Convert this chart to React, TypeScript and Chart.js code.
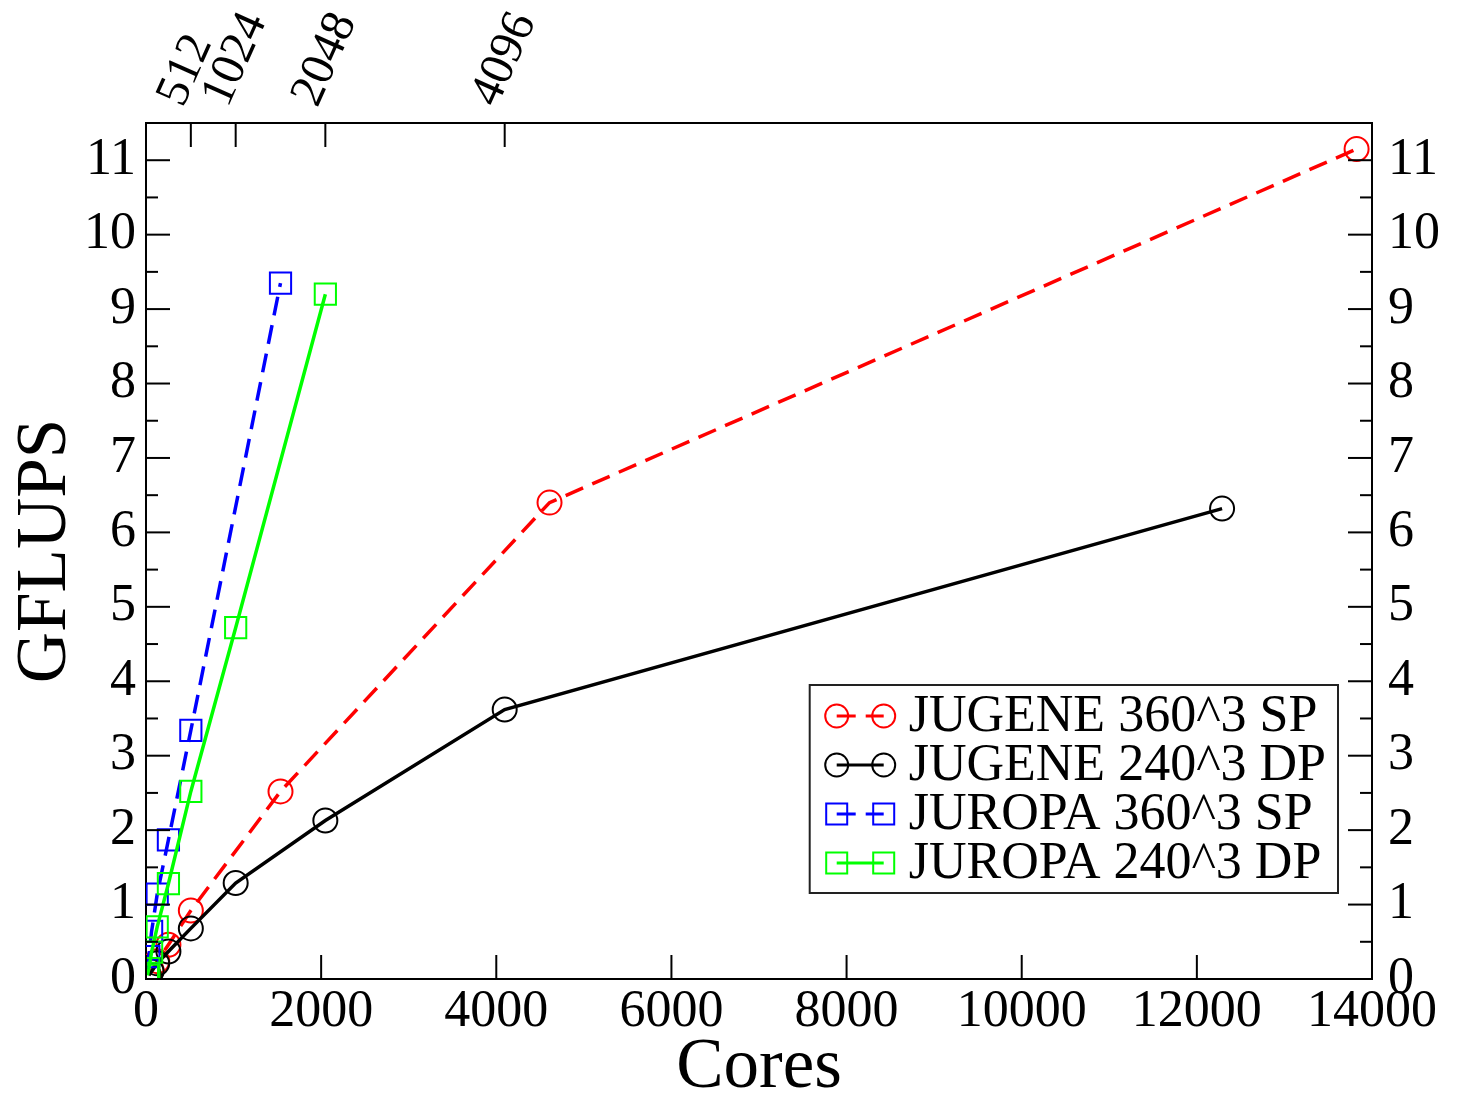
import React, { useEffect, useRef } from "react";
import { Chart, registerables } from "chart.js";

Chart.register(...registerables);

// ---- data ----
const seriesLabels = ["JUGENE 360^3 SP", "JUGENE 240^3 DP", "JUROPA 360^3 SP", "JUROPA 240^3 DP"];

const jugeneSpCores = [32, 64, 128, 256, 512, 1536, 4608, 13824];
const jugeneSpGflups = [0.06, 0.12, 0.24, 0.46, 0.92, 2.52, 6.4, 11.15];

const jugeneDpCores = [32, 64, 128, 256, 512, 1024, 2048, 4096, 12288];
const jugeneDpGflups = [0.05, 0.1, 0.21, 0.37, 0.68, 1.29, 2.13, 3.62, 6.32];

const juropaSpCores = [16, 32, 64, 128, 256, 512, 1536];
const juropaSpGflups = [0.12, 0.3, 0.64, 1.14, 1.87, 3.34, 9.35];

const juropaDpCores = [16, 32, 64, 128, 256, 512, 1024, 2048];
const juropaDpGflups = [0.05, 0.14, 0.36, 0.7, 1.28, 2.52, 4.72, 9.2];

const bottomTicks = [0, 2000, 4000, 6000, 8000, 10000, 12000, 14000];
const topTicks = [512, 1024, 2048, 4096];
const yTicks = [0, 1, 2, 3, 4, 5, 6, 7, 8, 9, 10, 11];

const X_MAX = 14000;
const Y_MAX = 11.5;

const FONT = "'Liberation Serif', 'Times New Roman', serif";

const toPoints = (xs: number[], ys: number[]) => xs.map((x, i) => ({ x, y: ys[i] }));

const frameTicks = {
  id: "frameTicks",
  afterDatasetsDraw(chart: any) {
    const { ctx, chartArea: a, scales } = chart;
    const major = 24;
    const minor = 12;
    ctx.save();
    ctx.strokeStyle = "#000";
    ctx.lineWidth = 2;
    const seg = (x1: number, y1: number, x2: number, y2: number) => {
      ctx.beginPath();
      ctx.moveTo(x1, y1);
      ctx.lineTo(x2, y2);
      ctx.stroke();
    };
    for (const t of scales.x.ticks) {
      const px = scales.x.getPixelForValue(t.value);
      seg(px, a.bottom, px, a.bottom - major);
    }
    for (const t of scales.x2.ticks) {
      const px = scales.x2.getPixelForValue(t.value);
      seg(px, a.top, px, a.top + major);
    }
    for (const t of scales.y.ticks) {
      const py = scales.y.getPixelForValue(t.value);
      seg(a.left, py, a.left + major, py);
      seg(a.right, py, a.right - major, py);
      const half = t.value + 0.5;
      if (half <= Y_MAX) {
        const pm = scales.y.getPixelForValue(half);
        seg(a.left, pm, a.left + minor, pm);
        seg(a.right, pm, a.right - minor, pm);
      }
    }
    ctx.restore();
  },
};

const boxLegend = {
  id: "boxLegend",
  afterDraw(chart: any) {
    const { ctx, chartArea: a } = chart;
    const fontSize = 52;
    const rowH = 49;
    ctx.save();
    ctx.font = `${fontSize}px ${FONT}`;
    const datasets = chart.data.datasets;
    let maxW = 0;
    datasets.forEach((d: any) => {
      maxW = Math.max(maxW, ctx.measureText(d.label).width);
    });
    const padL = 15;
    const symW = 72;
    const gap = 12;
    const padR = 12;
    const boxW = padL + symW + gap + maxW + padR;
    const boxH = 31 + rowH * (datasets.length - 1) + 30;
    const right = a.right - 34;
    const bottom = a.bottom - 86;
    const left = right - boxW;
    const top = bottom - boxH;
    ctx.fillStyle = "#fff";
    ctx.fillRect(left, top, boxW, boxH);
    ctx.strokeStyle = "#222";
    ctx.lineWidth = 2;
    ctx.strokeRect(left, top, boxW, boxH);

    datasets.forEach((d: any, i: number) => {
      const cy = top + 31 + i * rowH;
      const x1 = left + padL + 12;
      const x2 = left + padL + symW - 13;
      ctx.save();
      ctx.strokeStyle = d.borderColor;
      ctx.lineWidth = 3;
      ctx.setLineDash(d.borderDash || []);
      ctx.beginPath();
      ctx.moveTo(x1, cy);
      ctx.lineTo(x2, cy);
      ctx.stroke();
      ctx.setLineDash([]);
      ctx.lineWidth = 2;
      for (const mx of [x1, x2]) {
        ctx.beginPath();
        if (d.pointStyle === "rect") {
          ctx.rect(mx - 10.5, cy - 10.5, 21, 21);
        } else {
          ctx.arc(mx, cy, 11.5, 0, Math.PI * 2);
        }
        ctx.stroke();
      }
      ctx.restore();
      ctx.fillStyle = "#000";
      ctx.textBaseline = "middle";
      ctx.textAlign = "left";
      ctx.fillText(d.label, left + padL + symW + gap, cy + 1);
    });
    ctx.restore();
  },
};

export default function App() {
  const canvasRef = useRef<HTMLCanvasElement | null>(null);

  useEffect(() => {
    const canvas = canvasRef.current;
    if (!canvas) return;
    const tickFont = { family: FONT, size: 52 };
    const dash = [19, 10];
    const chart = new Chart(canvas, {
      type: "scatter",
      data: {
        datasets: [
          {
            label: seriesLabels[0],
            data: toPoints(jugeneSpCores, jugeneSpGflups),
            borderColor: "#ff0000",
            pointBorderColor: "#ff0000",
            borderDash: dash,
            pointStyle: "circle",
            pointRadius: 12,
            order: 3,
          },
          {
            label: seriesLabels[1],
            data: toPoints(jugeneDpCores, jugeneDpGflups),
            borderColor: "#000000",
            pointBorderColor: "#000000",
            pointStyle: "circle",
            pointRadius: 12,
            order: 2,
          },
          {
            label: seriesLabels[2],
            data: toPoints(juropaSpCores, juropaSpGflups),
            borderColor: "#0000ff",
            pointBorderColor: "#0000ff",
            borderDash: dash,
            pointStyle: "rect",
            pointRadius: 15,
            order: 1,
          },
          {
            label: seriesLabels[3],
            data: toPoints(juropaDpCores, juropaDpGflups),
            borderColor: "#00ff00",
            pointBorderColor: "#00ff00",
            pointStyle: "rect",
            pointRadius: 15,
            order: 0,
          },
        ].map((d) => ({
          ...d,
          showLine: true,
          borderWidth: 3.5,
          pointBorderWidth: 2,
          pointBackgroundColor: "rgba(0,0,0,0)",
          backgroundColor: "rgba(0,0,0,0)",
          tension: 0,
          xAxisID: "x",
          yAxisID: "y",
        })) as any,
      },
      options: {
        responsive: false,
        animation: false,
        devicePixelRatio: 1,
        layout: { padding: 0 },
        plugins: {
          legend: { display: false },
          tooltip: { enabled: false },
        },
        scales: {
          x: {
            type: "linear",
            position: "bottom",
            min: 0,
            max: X_MAX,
            afterBuildTicks: (s: any) => {
              s.ticks = bottomTicks.map((v) => ({ value: v }));
            },
            afterFit: (s: any) => {
              s.height = 114;
            },
            grid: { display: false, drawTicks: false },
            border: { display: true, color: "#000", width: 2 },
            ticks: {
              autoSkip: false,
              maxRotation: 0,
              minRotation: 0,
              padding: 2,
              color: "#000",
              font: tickFont,
              callback: (v: any) => String(v),
            },
            title: {
              display: true,
              text: "Cores",
              color: "#000",
              font: { family: FONT, size: 71, lineHeight: 0.7 },
              padding: { top: 0, bottom: 0 },
            },
          },
          x2: {
            type: "linear",
            position: "top",
            min: 0,
            max: X_MAX,
            afterBuildTicks: (s: any) => {
              s.ticks = topTicks.map((v) => ({ value: v }));
            },
            afterFit: (s: any) => {
              s.height = 123;
            },
            grid: { display: false, drawTicks: false },
            border: { display: true, color: "#000", width: 2 },
            ticks: {
              autoSkip: false,
              maxRotation: 66,
              minRotation: 66,
              padding: 8,
              labelOffset: 33,
              color: "#000",
              font: { family: FONT, size: 48 },
              callback: (v: any) => String(v),
            },
          },
          y: {
            type: "linear",
            position: "left",
            min: 0,
            max: Y_MAX,
            afterBuildTicks: (s: any) => {
              s.ticks = yTicks.map((v) => ({ value: v }));
            },
            afterFit: (s: any) => {
              s.width = 146;
            },
            grid: { display: false, drawTicks: false },
            border: { display: true, color: "#000", width: 2 },
            ticks: {
              autoSkip: false,
              padding: 10,
              color: "#000",
              font: tickFont,
              callback: (v: any) => String(v),
            },
            title: {
              display: true,
              text: "GFLUPS",
              color: "#000",
              font: { family: FONT, size: 71, lineHeight: 1.2 },
              padding: { top: 4, bottom: 0 },
            },
          },
          y2: {
            type: "linear",
            position: "right",
            display: true,
            min: 0,
            max: Y_MAX,
            afterBuildTicks: (s: any) => {
              s.ticks = yTicks.map((v) => ({ value: v }));
            },
            afterFit: (s: any) => {
              s.width = 85;
            },
            grid: { display: false, drawTicks: false },
            border: { display: true, color: "#000", width: 2 },
            ticks: {
              autoSkip: false,
              padding: 16,
              color: "#000",
              font: tickFont,
              callback: (v: any) => String(v),
            },
          },
        },
      } as any,
      plugins: [frameTicks, boxLegend],
    });
    return () => chart.destroy();
  }, []);

  return (
    <div style={{ position: "fixed", left: 0, top: 0, width: 1457, height: 1093, background: "#fff" }}>
      <canvas ref={canvasRef} width={1457} height={1093} style={{ display: "block" }} />
    </div>
  );
}
